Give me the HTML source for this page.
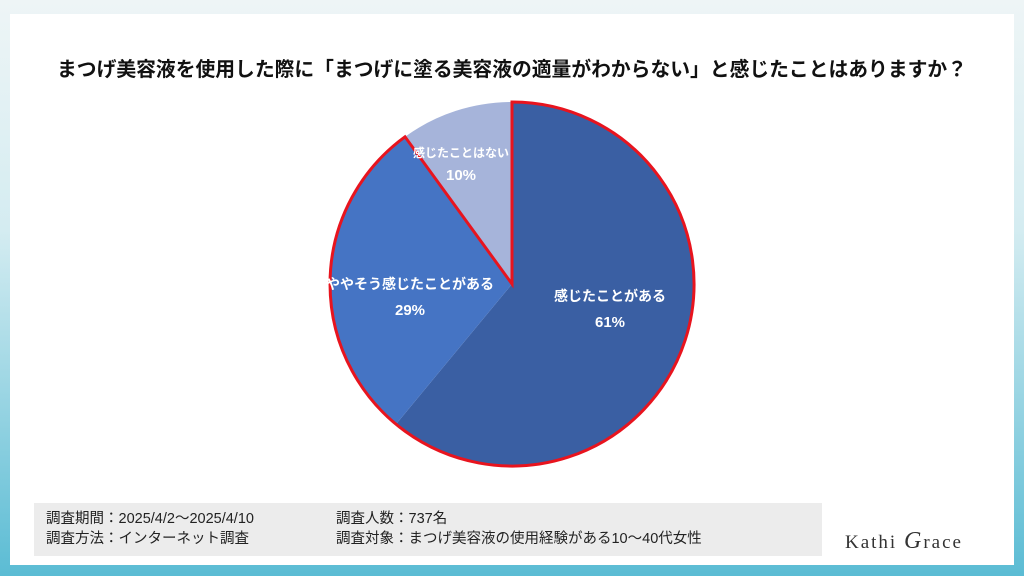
<!DOCTYPE html>
<html><head><meta charset="utf-8"><style>
body{margin:0;width:1024px;height:576px;overflow:hidden;background:linear-gradient(180deg,#eef5f6 0%,#d4ecf1 40%,#5bbcd4 100%);font-family:"Liberation Sans","Noto Sans CJK JP",sans-serif;position:relative}
.card{position:absolute;left:10px;top:14px;width:1004px;height:551px;background:#fff}
.title{position:absolute;left:0;width:1024px;top:53px;text-align:center;font-size:19.8px;font-weight:bold;color:#111;white-space:nowrap}
.box{position:absolute;left:34px;top:503px;width:788px;height:53px;background:#ececec;font-size:14.5px;color:#222;line-height:20px}
.box div{position:absolute;top:6px}
</style></head><body>
<div class="card"></div>
<div class="title">まつげ美容液を使用した際に「まつげに塗る美容液の適量がわからない」と感じたことはありますか？</div>
<svg width="1024" height="576" style="position:absolute;left:0;top:0">
<path d="M512 284 L512 102 A182 182 0 1 1 396 424.2 Z" fill="#3a5fa3"/>
<path d="M512 284 L396 424.2 A182 182 0 0 1 405 136.8 Z" fill="#4574c4"/>
<path d="M512 284 L405 136.8 A182 182 0 0 1 512 102 Z" fill="#a6b4da"/>
<path d="M512 284 L512 102 A182 182 0 1 1 405 136.8 Z" fill="none" stroke="#e8141e" stroke-width="3" stroke-linejoin="miter"/>
<g fill="#fff" font-weight="bold" text-anchor="middle" font-family="Liberation Sans,Noto Sans CJK JP,sans-serif">
<text x="610" y="301" font-size="14">感じたことがある</text>
<text x="610" y="327" font-size="15">61%</text>
<text x="410" y="289" font-size="14">ややそう感じたことがある</text>
<text x="410" y="315" font-size="15">29%</text>
<text x="461" y="157" font-size="12">感じたことはない</text>
<text x="461" y="180" font-size="15">10%</text>
</g>
<text x="845" y="548" font-size="19" fill="#333" font-family="Liberation Serif,serif" letter-spacing="2">Kathi <tspan font-style="italic" font-size="24">G</tspan>race</text>
</svg>
<div class="box"><div style="left:12px">調査期間：2025/4/2～2025/4/10<br>調査方法：インターネット調査</div><div style="left:302px">調査人数：737名<br>調査対象：まつげ美容液の使用経験がある10～40代女性</div></div>
</body></html>
